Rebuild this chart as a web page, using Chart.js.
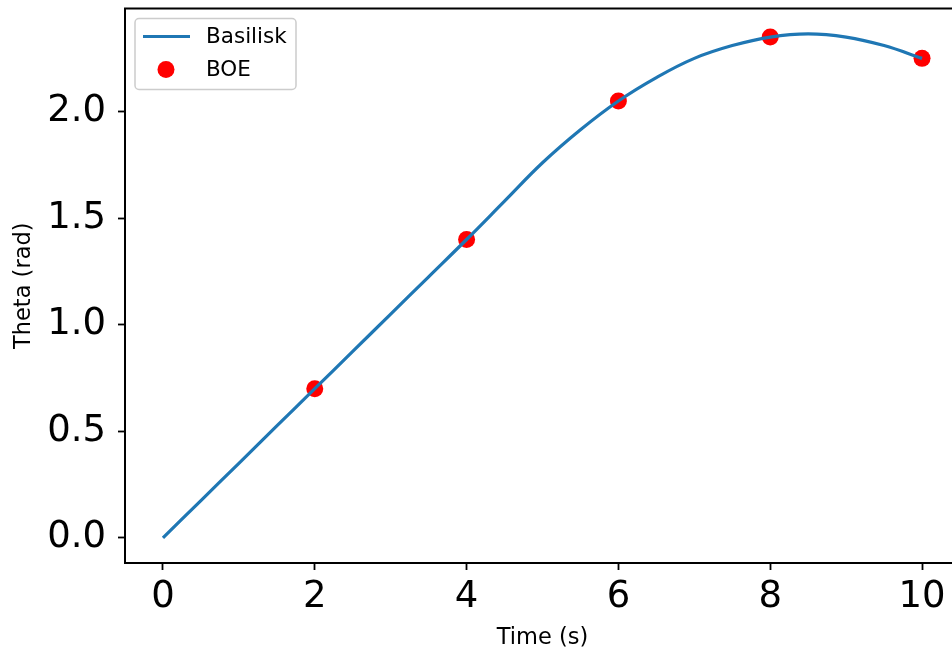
<!DOCTYPE html>
<html>
<head>
<meta charset="utf-8">
<script src="https://cdn.jsdelivr.net/npm/chart.js@4"></script>
<style>
  html, body { margin: 0; padding: 0; background: #fff; overflow: hidden; }
  #wrap { width: 975px; height: 656px; }
</style>
</head>
<body>
<div id="wrap"><canvas id="thetaChart" width="975" height="656"></canvas></div>
<script>
// values
const timeS = [0, 0.5, 1, 1.5, 2, 2.5, 3, 3.5, 4, 4.5, 5, 5.5, 6, 6.5, 7, 7.5, 8, 8.5, 9, 9.5, 10];
const basiliskTheta = [0, 0.175, 0.35, 0.525, 0.70, 0.875, 1.05, 1.225, 1.40, 1.58, 1.76, 1.915, 2.05, 2.16, 2.25, 2.31, 2.35, 2.365, 2.35, 2.31, 2.25];
const boeTime = [2, 4, 6, 8, 10];
const boeTheta = [0.70, 1.40, 2.05, 2.35, 2.25];
const xTicks = [0, 2, 4, 6, 8, 10];
const yTicks = [0, 0.5, 1.0, 1.5, 2.0];

const FONT = "'DejaVu Sans', sans-serif";
Chart.defaults.color = '#000';
Chart.defaults.font.family = FONT;

// top spine (right spine sits just past the window edge)
const topSpine = {
  id: 'topSpine',
  afterDraw(chart) {
    const { ctx, chartArea } = chart;
    ctx.save();
    ctx.strokeStyle = '#000';
    ctx.lineWidth = 2;
    ctx.beginPath();
    ctx.moveTo(chartArea.left - 1, chartArea.top);
    ctx.lineTo(chartArea.right + 1, chartArea.top);
    ctx.stroke();
    ctx.restore();
  }
};

// matplotlib-like legend box in the upper left
const boxLegend = {
  id: 'boxLegend',
  afterDraw(chart) {
    const { ctx, chartArea } = chart;
    const x = chartArea.left + 10, y = chartArea.top + 10, w = 161, h = 71;
    ctx.save();
    ctx.fillStyle = 'rgba(255,255,255,0.8)';
    ctx.strokeStyle = '#cccccc';
    ctx.lineWidth = 1.5;
    ctx.beginPath();
    ctx.roundRect(x, y, w, h, 4);
    ctx.fill();
    ctx.stroke();

    ctx.font = '21.5px ' + FONT;
    ctx.textBaseline = 'middle';
    chart.data.datasets.forEach((ds, i) => {
      const cy = y + 18 + i * 33;
      if (ds.showLine === false) {
        ctx.fillStyle = ds.pointBackgroundColor;
        ctx.beginPath();
        ctx.arc(x + 31, cy, ds.pointRadius, 0, Math.PI * 2);
        ctx.fill();
      } else {
        ctx.strokeStyle = ds.borderColor;
        ctx.lineWidth = ds.borderWidth;
        ctx.beginPath();
        ctx.moveTo(x + 8, cy);
        ctx.lineTo(x + 55, cy);
        ctx.stroke();
      }
      ctx.fillStyle = '#000';
      ctx.fillText(ds.label, x + 71, cy + 1);
    });
    ctx.restore();
  }
};

const tickGrid = {
  drawOnChartArea: false,
  drawTicks: true,
  tickLength: 7,
  tickWidth: 1.8,
  tickColor: '#000'
};

new Chart(document.getElementById('thetaChart'), {
  type: 'scatter',
  data: {
    datasets: [
      {
        label: 'Basilisk',
        data: timeS.map((t, i) => ({ x: t, y: basiliskTheta[i] })),
        showLine: true,
        borderColor: '#1f77b4',
        borderWidth: 3.2,
        pointRadius: 0,
        tension: 0.4
      },
      {
        label: 'BOE',
        data: boeTime.map((t, i) => ({ x: t, y: boeTheta[i] })),
        showLine: false,
        pointRadius: 8.5,
        pointBorderWidth: 0,
        pointBackgroundColor: '#ff0000',
        pointBorderColor: '#ff0000'
      }
    ]
  },
  options: {
    responsive: false,
    animation: false,
    layout: { padding: { top: 8, right: 15, left: 0, bottom: 0 } },
    plugins: {
      legend: { display: false },
      tooltip: { enabled: false }
    },
    scales: {
      x: {
        type: 'linear',
        min: -0.5,
        max: 10.5,
        afterFit(scale) {
          scale.height = 93;
          scale.paddingLeft = 0;
          scale.paddingRight = 0;
        },
        afterBuildTicks(scale) { scale.ticks = xTicks.map(v => ({ value: v })); },
        ticks: {
          font: { size: 37 },
          padding: 5,
          maxRotation: 0,
          callback: v => String(v)
        },
        grid: tickGrid,
        border: { display: true, color: '#000', width: 2 },
        title: {
          display: true,
          text: 'Time (s)',
          font: { size: 22.5 },
          padding: { top: 0, bottom: 4 }
        }
      },
      y: {
        type: 'linear',
        min: -0.118,
        max: 2.484,
        afterFit(scale) {
          scale.width = 125;
          scale.paddingTop = 0;
          scale.paddingBottom = 0;
        },
        afterBuildTicks(scale) { scale.ticks = yTicks.map(v => ({ value: v })); },
        ticks: {
          font: { size: 37 },
          padding: 12,
          callback: v => Number(v).toFixed(1)
        },
        grid: tickGrid,
        border: { display: true, color: '#000', width: 2 },
        title: {
          display: true,
          text: 'Theta (rad)',
          font: { size: 22.5 },
          padding: { top: 11, bottom: 0 }
        }
      }
    }
  },
  plugins: [topSpine, boxLegend]
});
</script>
</body>
</html>
